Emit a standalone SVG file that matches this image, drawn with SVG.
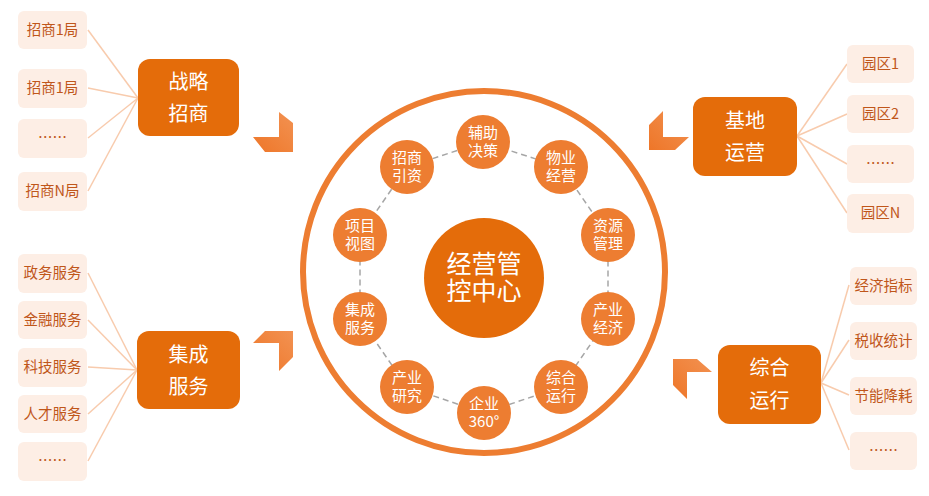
<svg xmlns="http://www.w3.org/2000/svg" width="929" height="496" viewBox="0 0 929 496">
<defs>
<style>
text{font-family:"Noto Sans CJK SC","Noto Sans",sans-serif;text-anchor:middle}
.main rect{fill:#e46c0a}
.main text{fill:#fff;font-size:20px}
.leaf rect{fill:#fdeee5}
.leaf text{fill:#c0561a;font-size:14.5px}
.sub circle{fill:#ed7d31}
.sub text{fill:#fff;font-size:15px}
.conn line{stroke:#f8cbad;stroke-width:1.5}
.chev{fill:url(#cg)}
</style>
<linearGradient id="cg" x1="0" y1="1" x2="1" y2="0">
<stop offset="0" stop-color="#ee7628"/>
<stop offset="1" stop-color="#f29252"/>
</linearGradient>
</defs>
<rect width="929" height="496" fill="#fff"/>

<g id="connectors" class="conn">
<line x1="88" y1="30" x2="138" y2="98"/>
<line x1="88" y1="88" x2="138" y2="98"/>
<line x1="88" y1="138" x2="138" y2="98"/>
<line x1="88" y1="191" x2="138" y2="98"/>
<line x1="88" y1="273" x2="137" y2="370"/>
<line x1="88" y1="320" x2="137" y2="370"/>
<line x1="88" y1="367" x2="137" y2="370"/>
<line x1="88" y1="414" x2="137" y2="370"/>
<line x1="88" y1="461" x2="137" y2="370"/>
<line x1="797" y1="136" x2="847" y2="64"/>
<line x1="797" y1="136" x2="847" y2="114"/>
<line x1="797" y1="136" x2="847" y2="164"/>
<line x1="797" y1="136" x2="847" y2="213"/>
<line x1="821" y1="383" x2="849" y2="285"/>
<line x1="821" y1="383" x2="849" y2="340"/>
<line x1="821" y1="383" x2="849" y2="395"/>
<line x1="821" y1="383" x2="849" y2="450"/>
</g>

<g id="chevrons">
<polygon class="chev" points="279,112 293,123 293,152 265,152 253,137 279,137"/>
<polygon class="chev" points="265,331 293,331 293,357 279,371 279,343 253,343"/>
<polygon class="chev" points="663,111 663,137 689,137 675,150 649,150 649,125"/>
<polygon class="chev" points="673,359 697,359 712,372 687,372 687,399 673,385"/>
</g>

<g id="ring">
<circle cx="484" cy="272" r="181" fill="none" stroke="#ed7d31" stroke-width="6"/>
<polygon points="483,142 561,167 608,235 608,319 561,387 484,413 407,387 360,319 360,235 407,167" fill="none" stroke="#a6a6a6" stroke-width="1.5" stroke-dasharray="6 4"/>
</g>

<g id="center">
<circle cx="484" cy="278" r="60" fill="#e46c0a"/>
<text x="484" y="273" fill="#fff" font-size="25">经营管</text>
<text x="484" y="300" fill="#fff" font-size="25">控中心</text>
</g>

<g id="sub-fuzhu" class="sub"><circle cx="483" cy="142" r="27"/><text x="483" y="138">辅助</text><text x="483" y="156">决策</text></g>
<g id="sub-wuye" class="sub"><circle cx="561" cy="167" r="27"/><text x="561" y="163">物业</text><text x="561" y="181">经营</text></g>
<g id="sub-ziyuan" class="sub"><circle cx="608" cy="235" r="27"/><text x="608" y="231">资源</text><text x="608" y="249">管理</text></g>
<g id="sub-chanyejj" class="sub"><circle cx="608" cy="319" r="27"/><text x="608" y="315">产业</text><text x="608" y="333">经济</text></g>
<g id="sub-zonghe" class="sub"><circle cx="561" cy="387" r="27"/><text x="561" y="383">综合</text><text x="561" y="401">运行</text></g>
<g id="sub-qiye" class="sub"><circle cx="484" cy="413" r="27"/><text x="484" y="409">企业</text><text x="484" y="427">360°</text></g>
<g id="sub-chanyeyj" class="sub"><circle cx="407" cy="387" r="27"/><text x="407" y="383">产业</text><text x="407" y="401">研究</text></g>
<g id="sub-jicheng" class="sub"><circle cx="360" cy="319" r="27"/><text x="360" y="315">集成</text><text x="360" y="333">服务</text></g>
<g id="sub-xiangmu" class="sub"><circle cx="360" cy="235" r="27"/><text x="360" y="231">项目</text><text x="360" y="249">视图</text></g>
<g id="sub-zhaoshang" class="sub"><circle cx="407" cy="167" r="27"/><text x="407" y="163">招商</text><text x="407" y="181">引资</text></g>

<g id="main-zhanlue" class="main"><rect x="138" y="59" width="101" height="77" rx="12"/><text x="188.5" y="89">战略</text><text x="188.5" y="121">招商</text></g>
<g id="main-jicheng" class="main"><rect x="137" y="331" width="103" height="78" rx="12"/><text x="188.5" y="362">集成</text><text x="188.5" y="394">服务</text></g>
<g id="main-jidi" class="main"><rect x="693" y="97" width="104" height="79" rx="12"/><text x="745" y="128">基地</text><text x="745" y="160">运营</text></g>
<g id="main-zonghe" class="main"><rect x="718" y="345" width="103" height="79" rx="12"/><text x="769.5" y="375">综合</text><text x="769.5" y="408">运行</text></g>

<g id="leaf-zs1" class="leaf"><rect x="18" y="11" width="69" height="38" rx="6"/><text x="52.5" y="35">招商1局</text></g>
<g id="leaf-zs2" class="leaf"><rect x="18" y="69" width="69" height="39" rx="6"/><text x="52.5" y="93">招商1局</text></g>
<g id="leaf-zs3" class="leaf"><rect x="18" y="119" width="69" height="39" rx="6"/><text x="52.5" y="143">……</text></g>
<g id="leaf-zs4" class="leaf"><rect x="18" y="172" width="69" height="39" rx="6"/><text x="52.5" y="196">招商N局</text></g>

<g id="leaf-jc1" class="leaf"><rect x="18" y="254" width="69" height="39" rx="6"/><text x="52.5" y="278">政务服务</text></g>
<g id="leaf-jc2" class="leaf"><rect x="18" y="301" width="69" height="38" rx="6"/><text x="52.5" y="325">金融服务</text></g>
<g id="leaf-jc3" class="leaf"><rect x="18" y="348" width="69" height="39" rx="6"/><text x="52.5" y="372">科技服务</text></g>
<g id="leaf-jc4" class="leaf"><rect x="18" y="395" width="69" height="38" rx="6"/><text x="52.5" y="419">人才服务</text></g>
<g id="leaf-jc5" class="leaf"><rect x="18" y="442" width="69" height="39" rx="6"/><text x="52.5" y="466">……</text></g>

<g id="leaf-jd1" class="leaf"><rect x="847" y="45" width="67" height="38" rx="6"/><text x="880.5" y="69">园区1</text></g>
<g id="leaf-jd2" class="leaf"><rect x="847" y="95" width="67" height="38" rx="6"/><text x="880.5" y="119">园区2</text></g>
<g id="leaf-jd3" class="leaf"><rect x="847" y="145" width="67" height="38" rx="6"/><text x="880.5" y="169">……</text></g>
<g id="leaf-jd4" class="leaf"><rect x="847" y="194" width="67" height="39" rx="6"/><text x="880.5" y="218">园区N</text></g>

<g id="leaf-zh1" class="leaf"><rect x="850" y="267" width="67" height="38" rx="6"/><text x="883.5" y="291">经济指标</text></g>
<g id="leaf-zh2" class="leaf"><rect x="850" y="322" width="67" height="38" rx="6"/><text x="883.5" y="346">税收统计</text></g>
<g id="leaf-zh3" class="leaf"><rect x="850" y="377" width="67" height="38" rx="6"/><text x="883.5" y="401">节能降耗</text></g>
<g id="leaf-zh4" class="leaf"><rect x="850" y="432" width="67" height="38" rx="6"/><text x="883.5" y="456">……</text></g>
</svg>
